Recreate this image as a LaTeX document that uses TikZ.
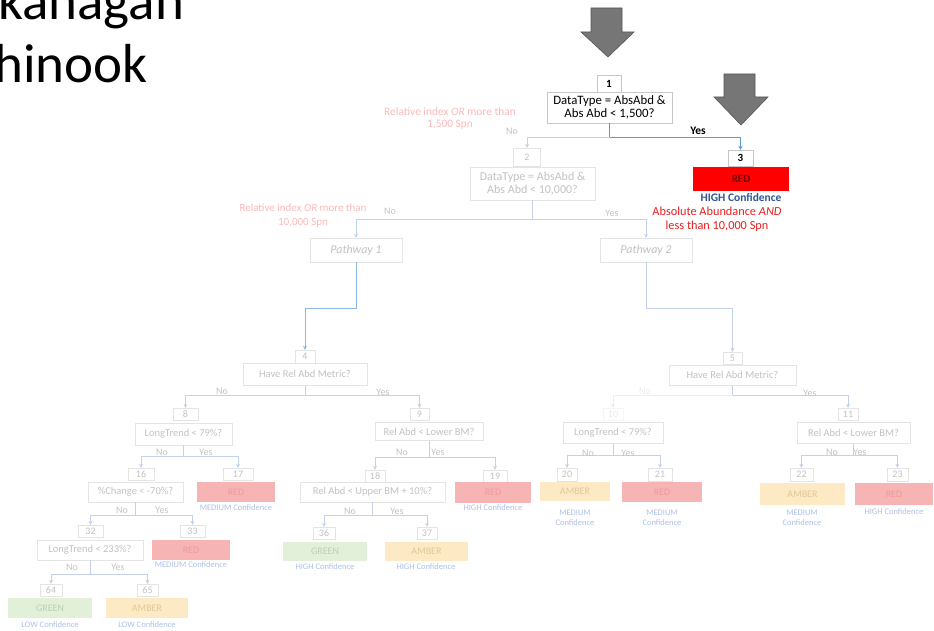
\documentclass[tikz,border=0pt]{standalone}
\usepackage{fontspec}
\setmainfont{Carlito}
\usetikzlibrary{arrows.meta}

\begin{document}
\begin{tikzpicture}[x=1pt, y=-1pt,
  >={Stealth[length=4pt,width=4pt]},
  numbox/.style={draw=fadeline, fill=white, text=fadetext, inner sep=0pt, minimum height=12, font=\fontsize{10}{11}\selectfont},
  askbox/.style={draw=fadeline, fill=white, text=fadetext, inner sep=0pt, minimum height=20, font=\fontsize{10.5}{12}\selectfont},
  redbox/.style={fill=fadered, text=faderedtext, inner sep=0pt, minimum height=20, font=\fontsize{10}{11}\selectfont},
  greenbox/.style={redbox, fill=fadegreen, text=fadegreentext},
  amberbox/.style={redbox, fill=fadeamber, text=fadeambertext},
  conf/.style={text=fadeconf, align=center, font=\fontsize{8.5}{10}\selectfont},
  yesno/.style={text=fadetext, font=\fontsize{10}{11}\selectfont},
  link/.style={draw=fadelink, line width=0.6pt},
  faint/.style={opacity=0.35},
  bigarrow/.style={fill=arrowgray, draw=arrowedge, line width=0.6pt}
]

% Define colors for the slide
\definecolor{arrowgray}{RGB}{118,118,118}
\definecolor{arrowedge}{RGB}{85,85,85}
\definecolor{linkblue}{RGB}{91,155,213}
\definecolor{confblue}{RGB}{47,85,151}
\definecolor{notered}{RGB}{232,30,30}
\definecolor{darkred}{RGB}{110,0,0}
\definecolor{fadetext}{RGB}{194,194,194}
\definecolor{fadeline}{RGB}{228,228,228}
\definecolor{fadelink}{RGB}{195,210,234}
\definecolor{fadepink}{RGB}{250,185,185}
\definecolor{fadered}{RGB}{247,180,180}
\definecolor{faderedtext}{RGB}{240,155,155}
\definecolor{fadegreen}{RGB}{226,240,217}
\definecolor{fadegreentext}{RGB}{188,208,178}
\definecolor{fadeamber}{RGB}{253,234,196}
\definecolor{fadeambertext}{RGB}{224,200,152}
\definecolor{fadeconf}{RGB}{172,192,228}

\useasboundingbox (0,0) rectangle (934,631);
\clip (0,0) rectangle (934,631);

% Slide title (cut off on the left)
\node[anchor=base west, inner sep=0pt, font=\fontsize{55}{55}\selectfont] (title1) at (-2,20) {kanagan};
\node[anchor=base west, inner sep=0pt, font=\fontsize{55}{55}\selectfont] (title2) at (-6,83) {hinook};

% Big grey arrows
\filldraw[bigarrow] (591,8) -- (622,8) -- (622,32) -- (634,32) -- (608,57) -- (581,32) -- (591,32) -- cycle;
\filldraw[bigarrow] (724,74) -- (755,74) -- (755,97) -- (768,97) -- (741,125) -- (714,97) -- (724,97) -- cycle;

% Decision 1 and result 3
\node[numbox, draw=gray!45, text=black, minimum width=24, minimum height=17, font=\fontsize{11}{12}\bfseries] (num1) at (609,84) {1};
\node[askbox, draw=gray!45, text=black, minimum width=125, minimum height=31, align=center, font=\fontsize{12.8}{13.5}\selectfont] (ask1) at (609.5,107.5) {DataType = AbsAbd \&\\Abs Abd < 1,500?};
\node[numbox, draw=gray!45, text=black, minimum width=25, minimum height=16, font=\fontsize{11}{12}\bfseries] (num3) at (740.5,158) {3};
\node[redbox, fill=red, text=darkred, minimum width=96, minimum height=24, font=\fontsize{11}{12}\bfseries] (res3) at (741,179) {RED};
\node[conf, text=confblue, font=\fontsize{11.5}{12}\bfseries] (conf3) at (741,197) {HIGH Confidence};
\node[text=notered, align=center, font=\fontsize{12.3}{14}\selectfont] (note3) at (717,219) {Absolute Abundance \textit{AND}\\less than 10,000 Spn};

% Decision 2 and the two pathways
\node[text=fadepink, align=center, font=\fontsize{11.4}{12}\selectfont] (note2) at (450,118) {Relative index \textit{OR} more than\\1,500 Spn};
\node[text=fadepink, align=center, font=\fontsize{11}{14}\selectfont] (note1) at (303,216) {Relative index \textit{OR} more than\\10,000 Spn};
\node[numbox, minimum width=27, minimum height=18] (num2) at (527,157) {2};
\node[askbox, minimum width=125, minimum height=33, align=center, font=\fontsize{12}{13.5}\selectfont] (ask2) at (532.5,183.5) {DataType = AbsAbd \&\\Abs Abd < 10,000?};
\node[askbox, minimum width=92, minimum height=24, font=\fontsize{12}{12}\itshape] (path1) at (356,250) {Pathway 1};
\node[askbox, minimum width=92, minimum height=24, font=\fontsize{12}{12}\itshape] (path2) at (646,250) {Pathway 2};

% Second level
\node[askbox, minimum width=124, minimum height=22] (ask4) at (305,374) {Have Rel Abd Metric?};
\node[numbox, minimum width=20, minimum height=13] (num4) at (305,356.5) {4};
\node[askbox, minimum width=127] (ask5) at (732.5,375) {Have Rel Abd Metric?};
\node[numbox, minimum width=19] (num5) at (732.5,358) {5};

% Third level
\node[numbox, minimum width=25] (num8) at (185.5,414) {8};
\node[askbox, minimum width=97, minimum height=22] (ask8) at (183.5,434) {LongTrend < 79\%?};
\node[numbox, minimum width=19] (num9) at (419.5,414) {9};
\node[askbox, minimum width=108, minimum height=18] (ask9) at (429,431.5) {Rel Abd < Lower BM?};
\node[numbox, faint, minimum width=20] (num10) at (613,414) {10};
\node[askbox, minimum width=100, minimum height=21] (ask10) at (613,432.5) {LongTrend < 79\%?};
\node[numbox, minimum width=20] (num11) at (848,414) {11};
\node[askbox, minimum width=113, minimum height=21] (ask11) at (853.5,432.5) {Rel Abd < Lower BM?};

% Fourth level
\node[numbox, minimum width=26] (num16) at (141,474) {16};
\node[askbox, minimum width=95] (ask16) at (135.5,492) {\%Change < -70\%?};
\node[numbox, minimum width=30] (num17) at (238,474) {17};
\node[redbox, minimum width=78] (res17) at (236,492) {RED};
\node[conf] (conf17) at (236,508) {MEDIUM Confidence};
\node[numbox, minimum width=20] (num18) at (375,476) {18};
\node[askbox, minimum width=145] (ask18) at (372.5,492) {Rel Abd < Upper BM + 10\%?};
\node[numbox, minimum width=24] (num19) at (495,476) {19};
\node[redbox, minimum width=76, minimum height=21] (res19) at (493,492.5) {RED};
\node[conf] (conf19) at (493,508) {HIGH Confidence};
\node[numbox, minimum width=20, minimum height=13] (num20) at (567,474.5) {20};
\node[amberbox, minimum width=70, minimum height=19] (res20) at (575,491.5) {AMBER};
\node[conf] (conf20) at (575,517.5) {MEDIUM\\Confidence};
\node[numbox, minimum width=24, minimum height=13] (num21) at (660,474.5) {21};
\node[redbox, minimum width=80] (res21) at (662,492) {RED};
\node[conf] (conf21) at (662,517.5) {MEDIUM\\Confidence};
\node[numbox, minimum width=23, minimum height=13] (num22) at (801.5,474.5) {22};
\node[amberbox, minimum width=85, minimum height=22] (res22) at (802.5,494) {AMBER};
\node[conf] (conf22) at (802,518) {MEDIUM\\Confidence};
\node[numbox, minimum width=21, minimum height=13] (num23) at (897.5,474.5) {23};
\node[redbox, minimum width=78, minimum height=22] (res23) at (894,494) {RED};
\node[conf] (conf23) at (894,512) {HIGH Confidence};

% Fifth and sixth level
\node[numbox, minimum width=25] (num32) at (90.5,531) {32};
\node[askbox, minimum width=106] (ask32) at (90,550) {LongTrend < 233\%?};
\node[numbox, minimum width=25] (num33) at (192.5,531) {33};
\node[redbox, minimum width=78] (res33) at (191,550) {RED};
\node[conf] (conf33) at (191,565) {MEDIUM Confidence};
\node[numbox, minimum width=22] (num36) at (324,533) {36};
\node[greenbox, minimum width=84, minimum height=19] (res36) at (325,551.5) {GREEN};
\node[conf] (conf36) at (325,567) {HIGH Confidence};
\node[numbox, minimum width=20] (num37) at (427,533) {37};
\node[amberbox, minimum width=83, minimum height=19] (res37) at (426.5,551.5) {AMBER};
\node[conf] (conf37) at (426,567) {HIGH Confidence};
\node[numbox, minimum width=22] (num64) at (51,590) {64};
\node[greenbox, minimum width=84] (res64) at (50,608) {GREEN};
\node[conf] (conf64) at (50,625) {LOW Confidence};
\node[numbox, minimum width=21] (num65) at (147.5,590) {65};
\node[amberbox, minimum width=82] (res65) at (147,608) {AMBER};
\node[conf] (conf65) at (147,625) {LOW Confidence};

% Connectors
\draw[draw=linkblue, line width=0.7pt] (ask1.south) -- ++(0,14) coordinate (b1);
\draw[draw=linkblue, line width=0.7pt, ->] (b1) -| (num3.north);
\draw[link, ->] (b1) -| (num2.north);
\draw[link] (ask2.south) -- ++(0,19) coordinate (b2);
\draw[link, ->] (b2) -| (path1.north);
\draw[link, ->] (b2) -| (path2.north);
\draw[draw=linkblue!70, line width=0.7pt, ->] (path1.south) -- ++(0,46) -| (num4.north);
\draw[link, ->] (path2.south) -- ++(0,46) -| (num5.north);
\draw[link] (ask4.south) -- ++(0,10) coordinate (b4);
\draw[link, ->] (b4) -| (num8.north);
\draw[link, ->] (b4) -| (num9.north);
\draw[link] (ask5.south) -- ++(0,10) coordinate (b5);
\draw[link, faint, ->] (b5) -| (num10.north);
\draw[link, ->] (b5) -| (num11.north);
\draw[link] (ask8.south) -- ++(0,11) coordinate (b8);
\draw[link, ->] (b8) -| (num16.north);
\draw[link, ->] (b8) -| (num17.north);
\draw[link] (ask9.south) -- ++(0,17) coordinate (b9);
\draw[link, ->] (b9) -| (num18.north);
\draw[link, ->] (b9) -| (num19.north);
\draw[link] (ask10.south) -- ++(0,12) coordinate (b10);
\draw[link, ->] (b10) -| (num20.north);
\draw[link, ->] (b10) -| (num21.north);
\draw[link] (ask11.south) -- ++(0,12) coordinate (b11);
\draw[link, ->] (b11) -| (num22.north);
\draw[link, ->] (b11) -| (num23.north);
\draw[link] (ask16.south) -- ++(0,13) coordinate (b16);
\draw[link, ->] (b16) -| (num32.north);
\draw[link, ->] (b16) -| (num33.north);
\draw[link] (ask18.south) -- ++(0,13) coordinate (b18);
\draw[link, ->] (b18) -| (num36.north);
\draw[link, ->] (b18) -| (num37.north);
\draw[link] (ask32.south) -- ++(0,14) coordinate (b32);
\draw[link, ->] (b32) -| (num64.north);
\draw[link, ->] (b32) -| (num65.north);

% Yes / No labels
\node[font=\fontsize{11.5}{12}\bfseries] (yes1) at (698,131) {Yes};
\node[yesno, faint] (no5) at (645,391) {No};
\foreach \x/\y/\t [count=\i] in {512/131/No, 390/211/No, 612/213/Yes, 222/391/No, 383/392/Yes,
    810/393/Yes, 162/452/No, 206/452/Yes, 402/452/No, 438/452/Yes,
    588/453/No, 628/453/Yes, 832/452/No, 860/452/Yes, 122/510/No, 162/510/Yes,
    350/511/No, 397/511/Yes, 72/567/No, 118/567/Yes}
  \node[yesno] (yn\i) at (\x,\y) {\t};

\end{tikzpicture}
\end{document}
